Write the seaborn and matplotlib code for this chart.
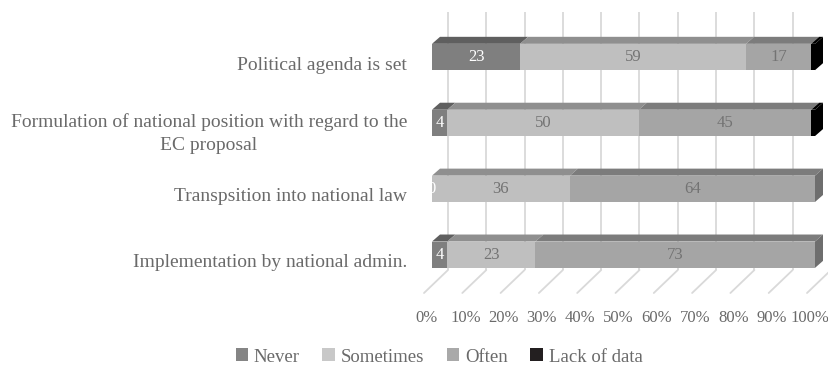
import matplotlib
matplotlib.use("Agg")
import matplotlib.pyplot as plt
import matplotlib.transforms as mtransforms
from matplotlib.patches import Polygon, Patch
import seaborn as sns

# ---- data -------------------------------------------------------------
stages = [
    "Political agenda is set",
    "Formulation of national position with regard to the\nEC proposal",
    "Transpsition into national law",
    "Implementation by national admin.",
]
never = [23, 4, 0, 4]
sometimes = [59, 50, 36, 23]
often = [17, 45, 64, 73]
lack_of_data = [1, 1, 0, 0]
series_names = ["Never", "Sometimes", "Often", "Lack of data"]
tick_values = list(range(0, 101, 10))
tick_labels = [f"{v}%" for v in tick_values]

# ---- style ------------------------------------------------------------
sns.set_theme(style="white")
plt.rcParams["font.family"] = ["Liberation Serif", "DejaVu Serif"]
TEXT = "#6a6a6a"
GRID = "#d9d9d9"
front_cols = ["#7f7f7f", "#bfbfbf", "#a5a5a5", "#000000"]
top_cols = ["#5f5f5f", "#8f8f8f", "#7c7c7c", "#000000"]
side_cols = ["#555555", "#808080", "#6e6e6e", "#000000"]
legend_cols = ["#858585", "#c8c8c8", "#a9a9a9", "#231f20"]
label_cols = ["white", "#737373", "#737373", None]

W, H, DPI = 829, 368, 100
fig = plt.figure(figsize=(W / DPI, H / DPI), dpi=DPI)

# axes frame: x spans the front faces of the bars, rows 66 px apart
X0, X1 = 432, 815          # pixel columns of 0% and 100% on the bar fronts
ROW0, ROW_STEP = 57, 65.9  # pixel row of the first bar centre, row spacing
TOP_PX, BOT_PX = 5, 293
ax = fig.add_axes([X0 / W, 1 - BOT_PX / H, (X1 - X0) / W, (BOT_PX - TOP_PX) / H])

px_x = (X1 - X0) / 100.0


def row(py):
    return (py - ROW0) / ROW_STEP


# 3-D depth offsets (pixels converted to data units)
BAR_DX, BAR_DY = 8 / px_x, 7 / ROW_STEP
WALL_DX = 16 / px_x
FLOOR_DX = -8 / px_x

# back wall gridlines and their receding floor lines
for v in tick_values:
    xb = v + WALL_DX
    ax.plot([xb, xb], [row(12), row(270)], color=GRID, lw=1.3, zorder=0,
            clip_on=False, solid_capstyle="butt")
    ax.plot([xb, v + FLOOR_DX], [row(270), row(293)], color=GRID, lw=1.3,
            zorder=0, clip_on=False)

# stacked front faces: cumulative totals drawn from the longest down
series = [never, sometimes, often, lack_of_data]
cums = []
run = [0] * len(stages)
for vals in series:
    run = [a + b for a, b in zip(run, vals)]
    cums.append(run)

for k in range(len(series) - 1, -1, -1):
    sns.barplot(x=cums[k], y=stages, orient="h", color=front_cols[k],
                saturation=1, width=0.4, linewidth=0, ax=ax, zorder=3)

HALF = 0.2
for i in range(len(stages)):
    left = 0
    last = None
    for k, vals in enumerate(series):
        v = vals[i]
        if v > 0:
            yt = i - HALF
            ax.add_patch(Polygon(
                [(left, yt), (left + v, yt), (left + v + BAR_DX, yt - BAR_DY),
                 (left + BAR_DX, yt - BAR_DY)],
                closed=True, facecolor=top_cols[k], edgecolor="none",
                zorder=3, clip_on=False))
            last = k
        if label_cols[k] is not None:
            ax.text(left + v / 2, i, str(v), ha="center", va="center",
                    fontsize=12, color=label_cols[k], zorder=5)
        left += v
    if last is not None:
        ax.add_patch(Polygon(
            [(left, i - HALF), (left, i + HALF),
             (left + BAR_DX, i + HALF - BAR_DY),
             (left + BAR_DX, i - HALF - BAR_DY)],
            closed=True, facecolor=side_cols[last], edgecolor="none",
            zorder=3, clip_on=False))

ax.set_xlim(0, 100)
ax.set_ylim(row(BOT_PX), row(TOP_PX))
ax.set_xlabel("")
ax.set_ylabel("")
for s in ax.spines.values():
    s.set_visible(False)

ax.set_xticks(tick_values, tick_labels)
ax.set_yticks(range(len(stages)), stages)
ax.tick_params(axis="x", length=0, pad=12, labelsize=12, labelcolor=TEXT)
ax.tick_params(axis="y", length=0, pad=18, labelsize=14, labelcolor=TEXT)

shift_x = mtransforms.ScaledTranslation(-5 / DPI, 0, fig.dpi_scale_trans)
for lbl in ax.get_xticklabels():
    lbl.set_transform(lbl.get_transform() + shift_x)
shift_y = mtransforms.ScaledTranslation(0, -6 / DPI, fig.dpi_scale_trans)
for lbl in ax.get_yticklabels():
    lbl.set_transform(lbl.get_transform() + shift_y)
    lbl.set_multialignment("center")
    lbl.set_linespacing(1.4)

handles = [Patch(facecolor=c, edgecolor="none", label=n)
           for c, n in zip(legend_cols, series_names)]
fig.legend(handles=handles, loc="center", bbox_to_anchor=(439 / W, 1 - 357 / H),
           ncol=4, frameon=False, handlelength=0.68, handleheight=0.68,
           handletextpad=0.3, columnspacing=1.2, fontsize=13.5, labelcolor=TEXT)

fig.savefig("out.png", dpi=DPI)
